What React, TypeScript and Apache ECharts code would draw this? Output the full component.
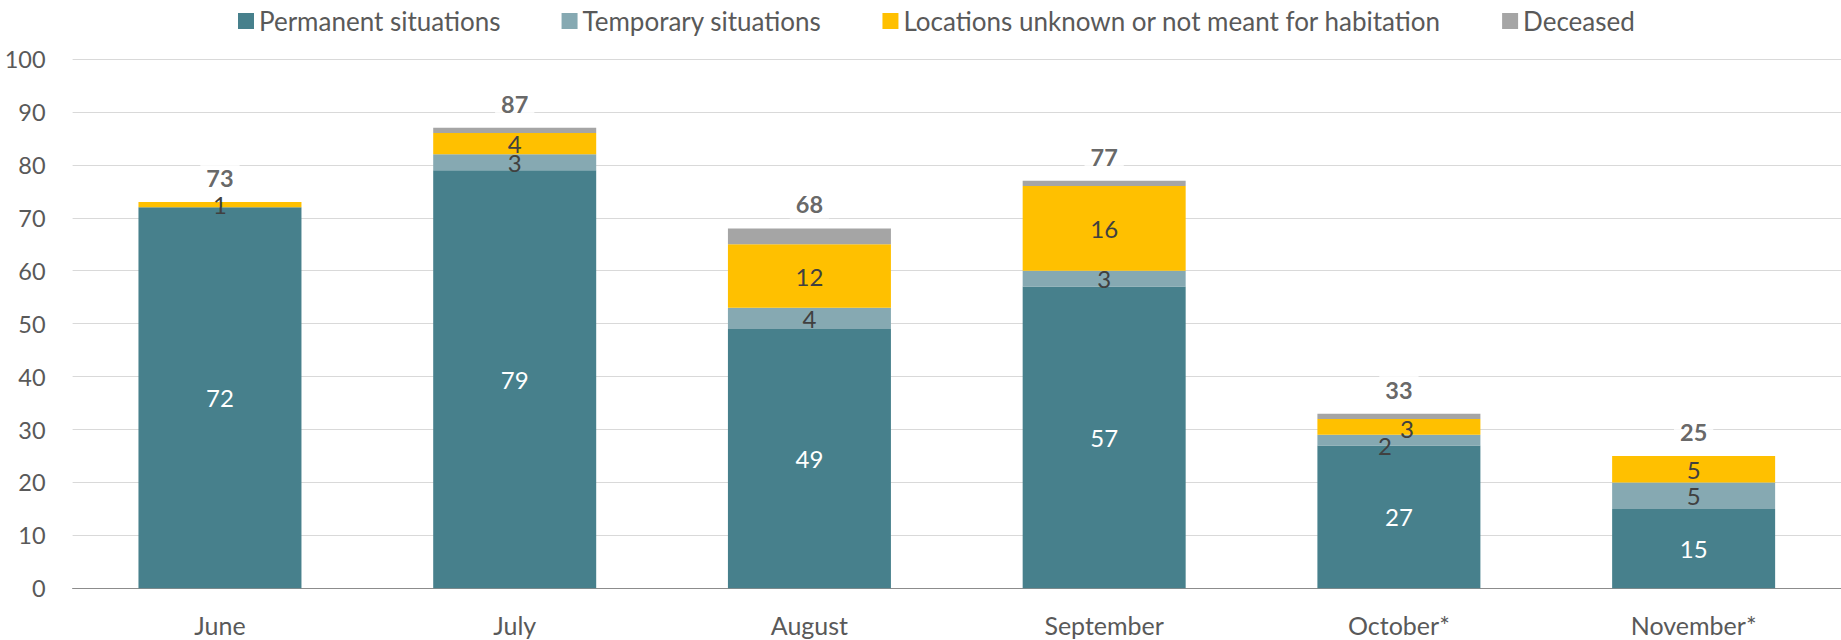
import React, { useEffect, useRef } from "react";
import * as echarts from "echarts";

const categories = ["June", "July", "August", "September", "October*", "November*"];
const permanent = [72, 79, 49, 57, 27, 15];
const temporary = [0, 3, 4, 3, 2, 5];
const locations = [1, 4, 12, 16, 3, 5];
const deceased = [0, 1, 3, 1, 1, 0];
const totals = [73, 87, 68, 77, 33, 25];
const yTicks = { min: 0, max: 100, interval: 10 };

const FONT = "Lato, 'Noto Sans', sans-serif";
const C_PERM = "#47808C";
const C_TEMP = "#86A9B2";
const C_LOC = "#FFC000";
const C_DEC = "#A5A5A5";

export default function App() {
  const ref = useRef<HTMLDivElement>(null);
  useEffect(() => {
    document.body.style.margin = "0";
    if (!ref.current) return;
    const chart = echarts.init(ref.current, null, { renderer: "svg" });
    const labelFmt = (p: any) => (p.value ? String(p.value) : "");
    const darkLabel = {
      show: true,
      position: "inside",
      color: "#404040",
      fontSize: 24,
      fontFamily: FONT,
      formatter: labelFmt,
    };
    const tempData = temporary.map((v, i) =>
      categories[i] === "October*" ? { value: v, label: { offset: [-14, 5] } } : v
    );
    const locData = locations.map((v, i) =>
      categories[i] === "October*" ? { value: v, label: { offset: [8, 2] } } : v
    );
    chart.setOption({
      animation: false,
      textStyle: { fontFamily: FONT },
      legend: {
        data: [
          "Permanent situations",
          "Temporary situations",
          "Locations unknown or not meant for habitation",
          "Deceased",
        ],
        top: 3,
        left: 233,
        itemWidth: 16,
        itemHeight: 16,
        itemGap: 61,
        icon: "rect",
        textStyle: { fontSize: 26, color: "#595959", fontFamily: FONT },
      },
      grid: { left: 72.6, right: 0, top: 59, bottom: 51.7, containLabel: false },
      xAxis: {
        type: "category",
        data: categories,
        axisTick: { show: false },
        axisLine: { lineStyle: { color: "#8C8C8C", width: 1 } },
        axisLabel: { color: "#595959", fontSize: 25, margin: 24, fontFamily: FONT },
      },
      yAxis: {
        type: "value",
        min: yTicks.min,
        max: yTicks.max,
        interval: yTicks.interval,
        axisLine: { show: false },
        axisTick: { show: false },
        splitLine: { lineStyle: { color: "#D9D9D9", width: 1 } },
        axisLabel: { color: "#595959", fontSize: 23.5, margin: 27, fontFamily: FONT },
      },
      series: [
        {
          name: "Permanent situations",
          type: "bar",
          stack: "s",
          barWidth: 163,
          data: permanent,
          itemStyle: { color: C_PERM },
          label: { ...darkLabel, color: "#FFFFFF" },
        },
        {
          name: "Temporary situations",
          type: "bar",
          stack: "s",
          data: tempData,
          itemStyle: { color: C_TEMP },
          label: darkLabel,
        },
        {
          name: "Locations unknown or not meant for habitation",
          type: "bar",
          stack: "s",
          data: locData,
          itemStyle: { color: C_LOC },
          label: darkLabel,
        },
        {
          name: "Deceased",
          type: "bar",
          stack: "s",
          data: deceased,
          itemStyle: { color: C_DEC },
          label: { show: false },
        },
        {
          name: "Total",
          type: "scatter",
          data: totals,
          symbolSize: 0,
          silent: true,
          z: 10,
          label: {
            show: true,
            position: "top",
            distance: 10,
            color: "#404040",
            fontWeight: "bold",
            fontSize: 23.5,
            fontFamily: FONT,
            backgroundColor: "#FFFFFF",
            padding: [2, 6],
          },
        },
      ],
    });
    return () => chart.dispose();
  }, []);
  return <div ref={ref} style={{ width: 1841, height: 640 }} />;
}
